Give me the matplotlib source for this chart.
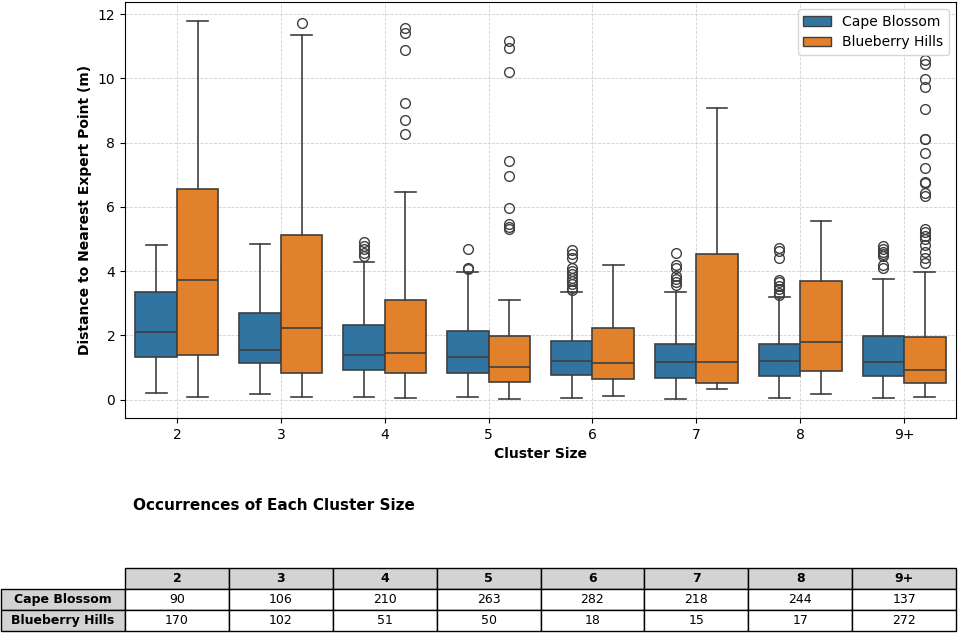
import matplotlib
matplotlib.use("Agg")
import matplotlib.pyplot as plt
from matplotlib.patches import Patch

# Cluster size categories
categories = ['2', '3', '4', '5', '6', '7', '8', '9+']
series_names = ['Cape Blossom', 'Blueberry Hills']
colors = ['#3274a1', '#e1812c']
line_color = '#3f3f3f'

# Box statistics: (whislo, q1, med, q3, whishi)
cape_stats = [
    (0.21, 1.33, 2.10, 3.35, 4.81),
    (0.18, 1.14, 1.54, 2.69, 4.86),
    (0.08, 0.92, 1.39, 2.33, 4.28),
    (0.08, 0.83, 1.33, 2.13, 3.97),
    (0.05, 0.77, 1.21, 1.82, 3.35),
    (0.02, 0.67, 1.18, 1.73, 3.35),
    (0.05, 0.73, 1.21, 1.73, 3.20),
    (0.05, 0.73, 1.16, 1.97, 3.75),
]
cape_fliers = [
    [],
    [],
    [4.91, 4.80, 4.68, 4.58, 4.48],
    [4.68, 4.09, 4.06],
    [4.66, 4.53, 4.42, 4.11, 4.01, 3.91, 3.80, 3.70, 3.60, 3.49, 3.42],
    [4.56, 4.18, 4.09, 3.85, 3.75, 3.65, 3.57],
    [4.71, 4.64, 4.40, 3.74, 3.65, 3.54, 3.44, 3.33, 3.26],
    [4.77, 4.68, 4.61, 4.53, 4.46, 4.20, 4.11],
]
blue_stats = [
    (0.08, 1.39, 3.72, 6.57, 11.79),
    (0.08, 0.84, 2.23, 5.14, 11.35),
    (0.05, 0.83, 1.45, 3.09, 6.48),
    (0.02, 0.55, 1.02, 1.97, 3.10),
    (0.13, 0.64, 1.14, 2.22, 4.18),
    (0.33, 0.52, 1.18, 4.53, 9.09),
    (0.18, 0.90, 1.79, 3.68, 5.56),
    (0.08, 0.52, 0.93, 1.94, 3.99),
]
blue_fliers = [
    [],
    [11.71],
    [11.56, 11.42, 10.90, 9.22, 8.72, 8.26],
    [11.17, 10.96, 10.20, 7.42, 6.95, 5.96, 5.47, 5.39, 5.31],
    [],
    [],
    [],
    [10.57, 10.44, 9.98, 9.72, 9.04, 8.13, 8.10, 7.67, 7.22, 6.78, 6.74,
     6.42, 6.34, 5.32, 5.22, 5.10, 4.99, 4.82, 4.61, 4.40, 4.25],
]

# Occurrence counts for the table
cape_counts = [90, 106, 210, 263, 282, 218, 244, 137]
blue_counts = [170, 102, 51, 50, 18, 15, 17, 272]


def make_stats(stats, fliers):
    out = []
    for (lo, q1, med, q3, hi), fl in zip(stats, fliers):
        out.append(dict(whislo=lo, q1=q1, med=med, q3=q3, whishi=hi, fliers=fl))
    return out


fig = plt.figure(figsize=(9.58, 6.33), dpi=100)
ax = fig.add_axes([125 / 958, 215 / 633, 831 / 958, 416 / 633])

box_w = 0.4
line_kw = dict(color=line_color, linewidth=1.2)
for k, (stats, fliers) in enumerate([(cape_stats, cape_fliers), (blue_stats, blue_fliers)]):
    pos = [i - box_w / 2 + k * box_w for i in range(len(categories))]
    ax.bxp(
        make_stats(stats, fliers),
        positions=pos,
        widths=box_w,
        capwidths=box_w / 2,
        patch_artist=True,
        boxprops=dict(facecolor=colors[k], edgecolor=line_color, linewidth=1.2),
        medianprops=line_kw,
        whiskerprops=line_kw,
        capprops=line_kw,
        flierprops=dict(marker='o', markerfacecolor='none', markeredgecolor=line_color,
                        markersize=7, markeredgewidth=1.0),
        manage_ticks=False,
        zorder=2,
    )

ax.set_xticks(range(len(categories)), categories)
ax.set_xlim(-0.5, len(categories) - 0.5)
ax.margins(y=0.05)
ax.grid(True, linestyle='--', color='#d0d0d0', linewidth=0.6)
ax.set_axisbelow(True)
ax.set_xlabel('Cluster Size', fontweight='bold')
ax.set_ylabel('Distance to Nearest Expert Point (m)', fontweight='bold')

handles = [Patch(facecolor=c, edgecolor=line_color, label=n) for c, n in zip(colors, series_names)]
ax.legend(handles=handles, loc='upper right')

# Table of occurrences
ax_t = fig.add_axes([125 / 958, 2 / 633, 831 / 958, 63 / 633])
ax_t.axis('off')
tbl = ax_t.table(
    cellText=[cape_counts, blue_counts],
    colLabels=categories,
    colColours=['lightgrey'] * len(categories),
    cellLoc='center',
    colWidths=[1 / len(categories)] * len(categories),
    bbox=[0, 0, 1, 1],
)
tbl.auto_set_font_size(False)
tbl.set_fontsize(9)
for r, name in enumerate(series_names, start=1):
    tbl.add_cell(r, -1, width=124 / 831, height=1 / 3, text=name, loc='center',
                 facecolor='lightgrey')
for (r, c), cell in tbl.get_celld().items():
    cell.set_height(1 / 3)
    cell.get_text().set_fontsize(9)
    if r == 0 or c == -1:
        cell.get_text().set_fontweight('bold')

fig.text(133 / 958, 1 - 505 / 633, 'Occurrences of Each Cluster Size',
         fontsize=11, fontweight='bold', va='center', ha='left')

fig.savefig('out.png', dpi=100)
